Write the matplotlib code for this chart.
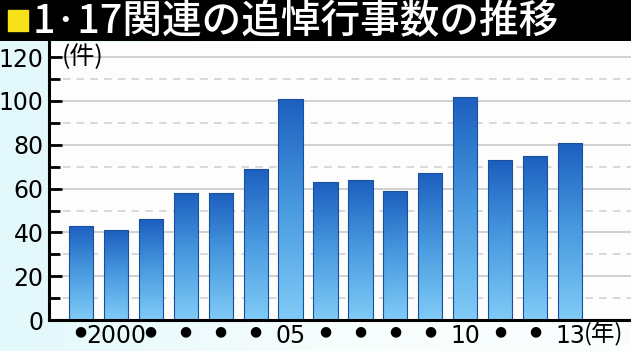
import matplotlib
matplotlib.use("Agg")
import matplotlib.pyplot as plt
import numpy as np
from matplotlib.patches import Rectangle
from matplotlib.colors import LinearSegmentedColormap

years = list(range(1999, 2014))
counts = [43, 41, 46, 58, 58, 69, 101, 63, 64, 59, 67, 102, 73, 75, 81]
xlabels = ['●', '2000', '●', '●', '●', '●', '05', '●', '●', '●', '●', '10', '●', '●', '13']
title = '1·17関連の追悼行事数の推移'

plt.rcParams['font.family'] = ['Noto Sans CJK JP', 'DejaVu Sans']

W, H = 631, 351
fig = plt.figure(figsize=(W / 100, H / 100), dpi=100)
fig.patch.set_facecolor('#effbfc')

# background gradient (left cyan)
bg = fig.add_axes([0, 0, 1, 1], zorder=-5)
g = np.linspace(0, 1, 256)[None, :]
bgcmap = LinearSegmentedColormap.from_list('bg', ['#e2f8fb', '#f6fdfd', '#fbfefe'])
bg.imshow(g, aspect='auto', cmap=bgcmap, extent=[0, 1, 0, 1])
bg.set_axis_off()

# title bar
tb = fig.add_axes([0, 1 - 41 / H, 1, 41 / H])
tb.set_xlim(0, W); tb.set_ylim(41, 0)
tb.add_patch(Rectangle((0, 0), W, 41, color='black', zorder=-1))
tb.add_patch(Rectangle((8, 10), 20, 21, color='#f7e21a'))
tb.text(33, 22, title, color='white', fontsize=28.5, va='center', ha='left', fontweight='medium')
tb.set_axis_off()

# main axes
x0, y0 = 49 / W, 1 - 320 / H
ax = fig.add_axes([x0, y0, 1 - x0, (320 - 42) / H])
ax.set_facecolor('#fdfdfd')
ymax = (320 - 42) / 2.19
ax.set_ylim(0, ymax)
ax.set_xlim(1998.09, 2014.74)

for v in range(20, 121, 20):
    ax.axhline(v, color='#c9c9c9', lw=1.2, zorder=1)
for v in range(10, 120, 20):
    ax.axhline(v, color='#cfcfcf', lw=1.1, ls=(0, (5, 4)), zorder=1)

cmap = LinearSegmentedColormap.from_list('bar', ['#80cbf7', '#4a9be0', '#1c5fbf'])
grad = np.linspace(0, 1, 256)[:, None]
bw = 0.69
bars = ax.bar(years, counts, width=bw, color='none', edgecolor='#1a4f9e', lw=0.8, zorder=3)
for b, val in zip(bars, counts):
    xl = b.get_x()
    im = ax.imshow(grad, aspect='auto', cmap=cmap, origin='lower',
                   extent=[xl, xl + bw, 0, val], zorder=2)
    im.set_clip_path(b)
    b.set_zorder(4)

ax.set_xlim(1998.09, 2014.74)
ax.set_ylim(0, ymax)

for s in ['top', 'right']:
    ax.spines[s].set_visible(False)
ax.spines['left'].set_linewidth(2.2)
ax.spines['bottom'].set_linewidth(2.2)
ax.spines['left'].set_zorder(6)
ax.spines['bottom'].set_zorder(6)

ax.set_yticks(range(0, 121, 20))
ax.set_yticks(range(10, 120, 20), minor=True)
ax.tick_params(axis='y', which='major', direction='in', length=9, width=2, labelsize=17, pad=4)
ax.tick_params(axis='y', which='minor', direction='in', length=8, width=2)
ax.set_yticklabels([str(v) for v in range(0, 121, 20)], family=['DejaVu Sans Condensed', 'DejaVu Sans'])

ax.set_xticks(years)
ax.set_xticklabels(xlabels)
ax.tick_params(axis='x', length=0, pad=3)
for lab, t in zip(ax.get_xticklabels(), xlabels):
    if t == '●':
        lab.set_fontsize(10)
        lab.set_family(['DejaVu Sans'])
    else:
        lab.set_fontsize(17)
        lab.set_family(['DejaVu Sans Condensed', 'DejaVu Sans'])

ax.text(2013.4, -6.3, '(年)', fontsize=17, va='center', ha='left', clip_on=False)
ax.text(1998.45, 120, '(件)', fontsize=18, va='center', ha='left')

fig.savefig('out.png', dpi=100, facecolor=fig.get_facecolor())
